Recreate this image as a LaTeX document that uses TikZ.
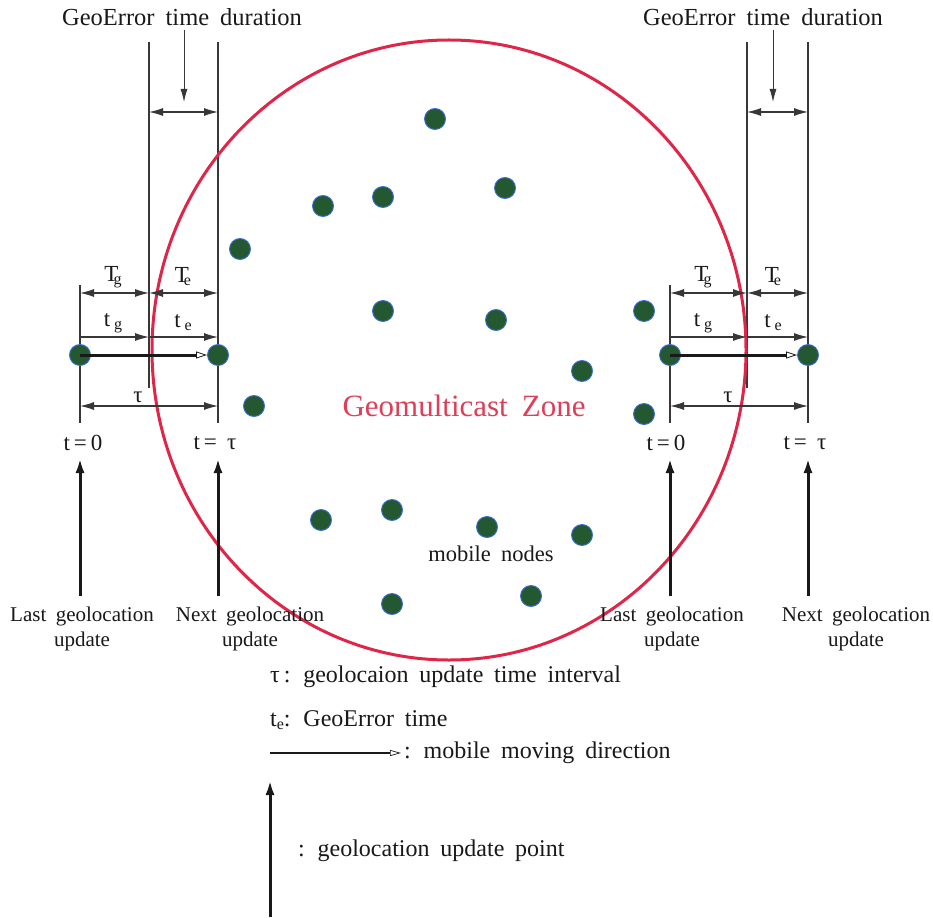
\documentclass[tikz,border=0pt]{standalone}
\usepackage{fontspec}
\setmainfont{Liberation Serif}[WordSpace=1.8]
\usetikzlibrary{arrows.meta}

\definecolor{zonered}{RGB}{224,38,72}
\definecolor{zonetext}{RGB}{222,62,88}
\definecolor{nodegreen}{RGB}{36,88,48}
\definecolor{nodeblue}{RGB}{60,110,215}
\definecolor{guide}{RGB}{55,55,55}
\definecolor{ink}{RGB}{25,25,25}

% lowered small letter used for the t_g, t_e, T_g, T_e labels
\newcommand{\lsub}[1]{\raisebox{-3pt}{\fontsize{16}{16}\selectfont #1}}
\newcommand{\Tsub}[1]{T\kern-5pt\lsub{#1}}

\tikzset{
  mnode/.style={circle, fill=nodegreen, draw=nodeblue, line width=0.9pt,
                minimum size=21pt, inner sep=0pt},
  guideline/.style={draw=guide, line width=1.1pt},
  dimboth/.style={guide, line width=1.1pt,
                  {Latex[length=14pt,width=8pt]}-{Latex[length=14pt,width=8pt]}},
  dimone/.style={guide, line width=1.1pt, -{Latex[length=14pt,width=8pt]}},
  pointer/.style={guide, line width=0.9pt, -{Latex[length=13pt,width=7pt]}},
  movedir/.style={ink, line width=3pt,
                  -{Triangle[fill=white,length=11pt,width=7pt,line width=0.8pt]}},
  updatearrow/.style={ink, line width=3pt, -{Latex[length=15pt,width=9pt]}},
  lbl/.style={font=\fontsize{21}{24}\selectfont, inner sep=0pt, text=ink},
  dimlbl/.style={font=\fontsize{23}{25}\selectfont, inner sep=0pt, text=ink},
  leglbl/.style={font=\fontsize{24}{27}\selectfont, inner sep=0pt, text=ink, anchor=west},
  toplbl/.style={font=\fontsize{24.5}{27}\selectfont, inner sep=0pt, text=ink},
  zonelbl/.style={font=\fontsize{31}{34}\selectfont, inner sep=0pt, text=zonetext},
}

\begin{document}
\begin{tikzpicture}[x=1pt,y=-1pt]
\useasboundingbox (0,0) rectangle (933,917);
\fill[white] (0,0) rectangle (933,917);

% rows used by the dimension lines
\coordinate (rowTop) at (0,112);
\coordinate (rowT)   at (0,293);
\coordinate (rowt)   at (0,337);
\coordinate (rowtau) at (0,406);

% ---------------- left update pair ----------------
\coordinate (Lm)     at (149,355);
\coordinate (LaTop)  at (80,285);
\coordinate (LaBot)  at (80,423);
\coordinate (LmTop)  at (149,42);
\coordinate (LmBot)  at (149,388);
\coordinate (LcTop)  at (218,42);
\coordinate (LcBot)  at (218,423);
\draw[guideline] (LaTop) -- (LaBot);
\draw[guideline] (LmTop) -- (LmBot);
\draw[guideline] (LcTop) -- (LcBot);

% ---------------- right update pair ----------------
\coordinate (Rm)     at (747,355);
\coordinate (RaTop)  at (670,285);
\coordinate (RaBot)  at (670,423);
\coordinate (RmTop)  at (747,42);
\coordinate (RmBot)  at (747,388);
\coordinate (RcTop)  at (808,42);
\coordinate (RcBot)  at (808,423);
\draw[guideline] (RaTop) -- (RaBot);
\draw[guideline] (RmTop) -- (RmBot);
\draw[guideline] (RcTop) -- (RcBot);

% geomulticast zone
\draw[zonered, line width=3pt] (449,350) ellipse [x radius=297, y radius=310];
\node[zonelbl] (zone) at (464,406) {Geomulticast Zone};

% ---------------- left pair details ----------------
\node[toplbl] (Lgeo) at (182,17) {GeoError time duration};
\coordinate (Lptr) at (184,102);
\draw[pointer] (Lgeo.south -| Lptr) ++(0,4) coordinate (LptrS) -- (Lptr);
\draw[dimboth] (LmTop |- rowTop) -- (LcTop |- rowTop);

\node[mnode] (L0) at (80,355) {};
\node[mnode] (L1) at (218,355) {};

\draw[dimboth] (L0 |- rowT) -- (Lm |- rowT);
\draw[dimboth] (Lm |- rowT) -- (L1 |- rowT);
\node[dimlbl] (LTg) at (113,277) {\Tsub{g}};
\node[dimlbl] (LTe) at (183,277) {\Tsub{e}};

\draw[dimone] (L0 |- rowt) -- (Lm |- rowt);
\draw[dimone] (Lm |- rowt) -- (L1 |- rowt);
\node[dimlbl] (Ltg) at (113,323) {t\,\lsub{g}};
\node[dimlbl] (Lte) at (183,323) {t\,\lsub{e}};

\draw[movedir] (L0.center) -- (L1.west);

\draw[dimboth] (L0 |- rowtau) -- (L1 |- rowtau);
\node[dimlbl] (Ltau) at (138,397) {τ};

\node[dimlbl] (Lt0)   at (83,443)  {t\,=\,0};
\node[dimlbl] (Lttau) at (215,443) {t\,=\;\,τ};

\coordinate (LupA) at (80,596);
\coordinate (LupB) at (218,596);
\draw[updatearrow] (LupA) -- (80,458) coordinate (LupAend);
\draw[updatearrow] (LupB) -- (218,458) coordinate (LupBend);
\node[lbl, align=center] (Llast) at (82,629) {Last geolocation\\[1pt]update};
\node[lbl, align=center] (Lnext) at (250,629) {Next geolocation\\[1pt]update};

% ---------------- right pair details ----------------
\node[toplbl] (Rgeo) at (763,17) {GeoError time duration};
\coordinate (Rptr) at (773,102);
\draw[pointer] (Rgeo.south -| Rptr) ++(0,4) coordinate (RptrS) -- (Rptr);
\draw[dimboth] (RmTop |- rowTop) -- (RcTop |- rowTop);

\node[mnode] (R0) at (670,355) {};
\node[mnode] (R1) at (808,355) {};

\draw[dimboth] (R0 |- rowT) -- (Rm |- rowT);
\draw[dimboth] (Rm |- rowT) -- (R1 |- rowT);
\node[dimlbl] (RTg) at (703,277) {\Tsub{g}};
\node[dimlbl] (RTe) at (773,277) {\Tsub{e}};

\draw[dimone] (R0 |- rowt) -- (Rm |- rowt);
\draw[dimone] (Rm |- rowt) -- (R1 |- rowt);
\node[dimlbl] (Rtg) at (703,323) {t\,\lsub{g}};
\node[dimlbl] (Rte) at (773,323) {t\,\lsub{e}};

\draw[movedir] (R0.center) -- (R1.west);

\draw[dimboth] (R0 |- rowtau) -- (R1 |- rowtau);
\node[dimlbl] (Rtau) at (728,397) {τ};

\node[dimlbl] (Rt0)   at (666,443) {t\,=\,0};
\node[dimlbl] (Rttau) at (805,443) {t\,=\;\,τ};

\coordinate (RupA) at (670,596);
\coordinate (RupB) at (808,596);
\draw[updatearrow] (RupA) -- (670,458) coordinate (RupAend);
\draw[updatearrow] (RupB) -- (808,458) coordinate (RupBend);
\node[lbl, align=center] (Rlast) at (672,629) {Last geolocation\\[1pt]update};
\node[lbl, align=center] (Rnext) at (856,629) {Next geolocation\\[1pt]update};

% ---------------- mobile nodes inside the zone ----------------
\foreach \px/\py [count=\k] in {435/119, 323/206, 383/197, 505/188, 240/249,
    383/311, 496/320, 644/311, 582/371, 254/406, 644/414,
    321/520, 392/510, 487/527, 582/535, 392/604, 531/596}
  \node[mnode] (m\k) at (\px,\py) {};
\node[font=\fontsize{22.5}{25}\selectfont, inner sep=0pt, text=ink] (mobile) at (491,554) {mobile nodes};

% ---------------- legend ----------------
\node[leglbl] (legtau) at (270,677) {τ\,: geolocaion update time interval};
\node[leglbl] (legte)  at (270,720) {t\lsub{e}: GeoError time};
\coordinate (movS) at (270,753);
\coordinate (movE) at (401,753);
\draw[ink, line width=2pt,
      -{Triangle[fill=white,length=11pt,width=6pt,line width=0.7pt]}] (movS) -- (movE);
\node[leglbl] (legmove) at (404,753) {: mobile moving direction};
\coordinate (updS) at (270,917);
\coordinate (updE) at (270,780);
\draw[updatearrow] (updS) -- (updE);
\node[leglbl] (legupd) at (298,851) {: geolocation update point};

\end{tikzpicture}
\end{document}
